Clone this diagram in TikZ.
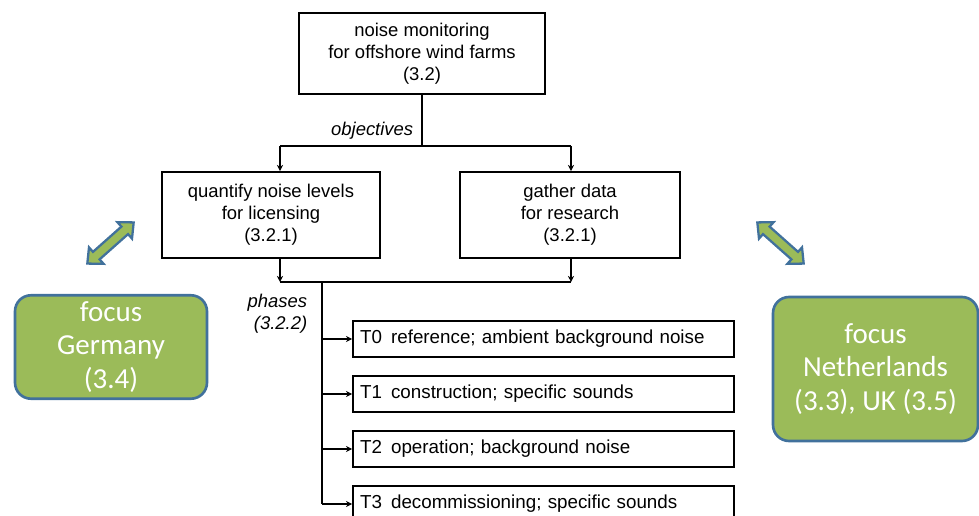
\documentclass[tikz,border=0pt]{standalone}
\usepackage{fontspec}
\setmainfont{Liberation Sans}
\newfontfamily\calibri{Carlito}
\usepackage{xcolor}
\usetikzlibrary{positioning,arrows.meta}
\definecolor{focusgreen}{RGB}{155,187,89}
\definecolor{focusblue}{RGB}{65,113,156}

\begin{document}
\begin{tikzpicture}[x=0.02cm, y=-0.02cm, line width=1.1pt,
        box/.style = {draw,
        align=center,
        font=\fontsize{10.5}{12.5}\selectfont},
        phasebox/.style = {draw,
        minimum width=7.62cm,
        minimum height=0.72cm,
        text width=7.34cm,
        inner xsep=0.14cm,
        align=left,
        font=\fontsize{10.7}{12.5}\selectfont},
        focus/.style = {draw=focusblue,
        line width=1.5pt,
        fill=focusgreen,
        rounded corners=0.32cm,
        text=white,
        align=center,
        font=\calibri\fontsize{16.5}{19.3}\selectfont},
        twoway/.style = {draw=focusblue,
        line width=1.3pt,
        line join=miter,
        fill=focusgreen},
        tip/.style = {-{Stealth[length=3.5pt,width=3.5pt]}},
        lbl/.style = {font=\itshape\fontsize{10.5}{12.5}\selectfont}]

        \useasboundingbox (0,0) rectangle (979,516);

        % Main topic
        \node [box, minimum width=4.92cm, minimum height=1.62cm] (top) at (422,53.5)
            {noise monitoring\\for offshore wind farms\\(3.2)};

        % Objectives
        \node [box, minimum width=4.36cm, minimum height=1.72cm] (quant) at (271,215)
            {quantify noise levels\\for licensing\\(3.2.1)};
        \node [box, minimum width=4.4cm, minimum height=1.72cm] (gather) at (570,215)
            {gather data\\for research\\(3.2.1)};

        % Phases
        \node [phasebox] (t0) at (543.5,339) {T0\hspace{0.15em} reference; ambient background noise};
        \node [phasebox] (t1) at (543.5,394) {T1\hspace{0.15em} construction; specific sounds};
        \node [phasebox] (t2) at (543.5,449) {T2\hspace{0.15em} operation; background noise};
        \node [phasebox] (t3) at (543.5,504) {T3\hspace{0.15em} decommissioning; specific sounds};

        % Branch points
        \coordinate (objL) at (280,146);
        \coordinate (objR) at (571,146);
        \coordinate (joinL) at (280,282);
        \coordinate (joinR) at (571,282);
        \coordinate (split) at (322,282);

        % Connectors
        \draw (top.south) -- (top.south |- objL);
        \draw (objL) -- (objR);
        \draw[tip] (objL) -- (objL |- quant.north);
        \draw[tip] (objR) -- (objR |- gather.north);
        \draw[tip] (objL |- quant.south) -- (joinL);
        \draw[tip] (objR |- gather.south) -- (joinR);
        \draw (joinL) -- (joinR);
        \draw (split) -- (split |- t3.west);
        \foreach \t in {t0,t1,t2,t3}
            \draw[tip] (split |- \t.west) -- (\t.west);

        % Labels
        \node [lbl, anchor=east] (objlbl) at (420,131) {objectives};
        \node [lbl, anchor=east, align=right] (phlbl) at (314,314) {phases\\(3.2.2)};

        % Focus boxes
        \node [focus, minimum width=3.84cm, minimum height=2.02cm] (de) at (111,347)
            {focus\\Germany\\(3.4)};
        \node [focus, minimum width=4.1cm, minimum height=2.88cm] (nl) at (875.5,369)
            {focus\\Netherlands\\(3.3), UK (3.5)};

        % Two-way arrows
        \foreach \cx/\ang in {110.5/41.6, 780.5/-41.6}
            \draw[twoway, shift={(\cx,243)}, rotate=\ang]
                (-31,0) -- (-19,-11) -- (-19,-5) -- (19,-5) -- (19,-11) -- (31,0)
                -- (19,11) -- (19,5) -- (-19,5) -- (-19,11) -- cycle;

    \end{tikzpicture}
\end{document}
